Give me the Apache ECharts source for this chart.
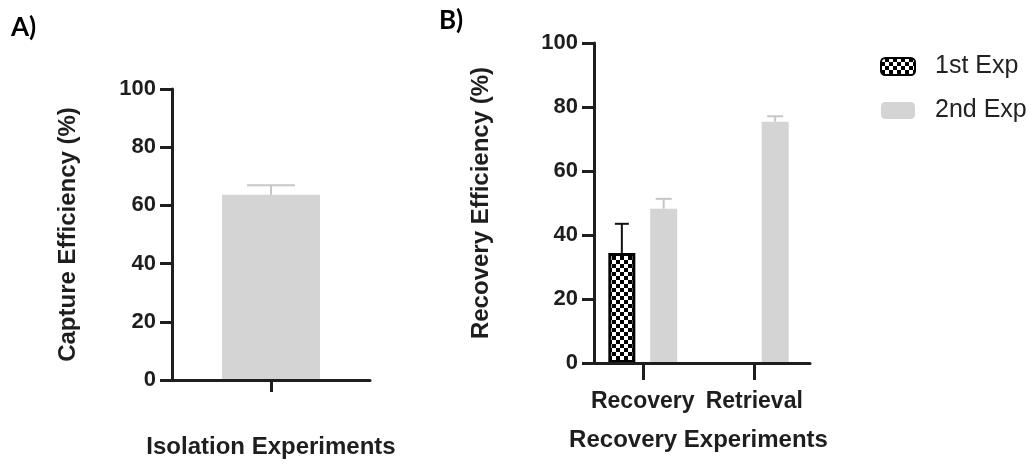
<!DOCTYPE html>
<html>
<head>
<meta charset="utf-8">
<script src="https://cdn.jsdelivr.net/npm/echarts@6/dist/echarts.min.js"></script>
<style>html,body{margin:0;padding:0;background:#fff;}#c{width:1035px;height:464px;}</style>
</head>
<body>
<div id="c"></div>
<script>
// ---- data ----
const isoCategories = [''];
const isoMean = [63.7];
const isoErr = [3.2];

const recCategories = ['Recovery', 'Retrieval'];
const seriesNames = ['1st Exp', '2nd Exp'];
const exp1Mean = [34.4, null];
const exp1Err = [9.1, null];
const exp2Mean = [48.2, 75.4];
const exp2Err = [3.1, 1.7];

// ---- styles ----
const FONT = '"Liberation Sans", Arial, sans-serif';
const AXIS_COLOR = '#1e1e1e';
const GRAY = '#d4d4d4';
const ERR_GRAY = '#c6c6c6';

function checker() {
  const c = document.createElement('canvas');
  c.width = 8; c.height = 8;
  const g = c.getContext('2d');
  g.fillStyle = '#000'; g.fillRect(0, 0, 8, 8);
  g.fillStyle = '#fff'; g.fillRect(0, 0, 4, 4); g.fillRect(4, 4, 4, 4);
  return c;
}

function errRender(offset, capHalf, color) {
  return function (params, api) {
    const idx = api.value(0), m = api.value(1), e = api.value(2);
    const p0 = api.coord([idx, m]);
    const p1 = api.coord([idx, m + e]);
    const x = p0[0] + offset;
    return {
      type: 'group',
      children: [
        { type: 'line', shape: { x1: x, y1: p0[1], x2: x, y2: p1[1] }, style: { stroke: color, lineWidth: 2 } },
        { type: 'line', shape: { x1: x - capHalf, y1: p1[1], x2: x + capHalf, y2: p1[1] }, style: { stroke: color, lineWidth: 2 } }
      ]
    };
  };
}
function errData(means, errs) {
  const out = [];
  means.forEach((m, i) => { if (m != null) out.push([i, m, errs[i]]); });
  return out;
}

const axisLine = { show: true, lineStyle: { color: AXIS_COLOR, width: 3 } };
const axisTick = { show: true, length: 12, lineStyle: { color: AXIS_COLOR, width: 3 } };
const tickLabel = { fontFamily: FONT, fontWeight: 'bold', fontSize: 22, color: AXIS_COLOR };
const nameStyle = { fontFamily: FONT, fontWeight: 'bold', fontSize: 24, color: AXIS_COLOR };

const chart = echarts.init(document.getElementById('c'), null, { renderer: 'canvas' });

chart.setOption({
  animation: false,
  backgroundColor: '#fff',
  graphic: [
    { type: 'text', left: 11, top: 15, style: { text: 'A)', font: 'bold 26px Lato, "Open Sans", sans-serif', fill: '#000' } },
    { type: 'text', left: 439, top: 8, style: { text: 'B)', font: 'bold 26px Lato, "Open Sans", sans-serif', fill: '#000' } }
  ],
  legend: {
    data: seriesNames,
    orient: 'vertical',
    left: 880, top: 54,
    itemWidth: 34, itemHeight: 17, itemGap: 19,
    padding: 0,
    textStyle: { fontFamily: FONT, fontSize: 25, color: '#222', padding: [0, 0, 0, 15] }
  },
  grid: [
    { left: 172, top: 89, width: 198, height: 295 },
    { left: 587, top: 43, width: 223, height: 320 }
  ],
  xAxis: [
    {
      gridIndex: 0, type: 'category', data: isoCategories, z: 5,
      axisLine, axisTick: Object.assign({}, axisTick, { alignWithLabel: true }),
      axisLabel: Object.assign({}, tickLabel, { margin: 26 }),
      name: 'Isolation Experiments', nameLocation: 'middle', nameGap: 55, nameTextStyle: nameStyle
    },
    {
      gridIndex: 1, type: 'category', data: recCategories, z: 5,
      axisLine, axisTick: Object.assign({}, axisTick, { length: 17, alignWithLabel: true, interval: 0 }),
      axisLabel: Object.assign({}, tickLabel, { fontSize: 23, margin: 27, interval: 0, hideOverlap: false }),
      name: 'Recovery Experiments', nameLocation: 'middle', nameGap: 65, nameTextStyle: nameStyle
    }
  ],
  yAxis: [
    {
      gridIndex: 0, type: 'value', min: 0, max: 100, interval: 20, z: 5,
      axisLine, axisTick, splitLine: { show: false },
      axisLabel: Object.assign({}, tickLabel, { margin: 16 }),
      name: 'Capture Efficiency (%)', nameLocation: 'middle', nameGap: 92, nameTextStyle: nameStyle
    },
    {
      gridIndex: 1, type: 'value', min: 0, max: 100, interval: 20, z: 5, offset: -7,
      axisLine, axisTick, splitLine: { show: false },
      axisLabel: Object.assign({}, tickLabel, { margin: 16 }),
      name: 'Recovery Efficiency (%)', nameLocation: 'middle', nameGap: 101, nameTextStyle: nameStyle
    }
  ],
  series: [
    {
      name: 'Isolation', type: 'bar', xAxisIndex: 0, yAxisIndex: 0, data: isoMean,
      barWidth: 98, itemStyle: { color: GRAY }
    },
    {
      name: 'isoErr', type: 'custom', xAxisIndex: 0, yAxisIndex: 0,
      data: errData(isoMean, isoErr), renderItem: errRender(0, 24, ERR_GRAY), z: 1
    },
    {
      name: seriesNames[0], type: 'bar', xAxisIndex: 1, yAxisIndex: 1, data: exp1Mean,
      barWidth: 27, barGap: '55%',
      itemStyle: { color: { image: checker(), repeat: 'repeat' }, borderColor: '#000', borderWidth: 3 }
    },
    {
      name: seriesNames[1], type: 'bar', xAxisIndex: 1, yAxisIndex: 1, data: exp2Mean,
      barWidth: 27, barGap: '55%', itemStyle: { color: GRAY }
    },
    {
      name: 'err1', type: 'custom', xAxisIndex: 1, yAxisIndex: 1,
      data: errData(exp1Mean, exp1Err), renderItem: errRender(-20.9, 7, '#111'), z: 1
    },
    {
      name: 'err2', type: 'custom', xAxisIndex: 1, yAxisIndex: 1,
      data: errData(exp2Mean, exp2Err), renderItem: errRender(20.9, 8, ERR_GRAY), z: 1
    }
  ]
});
</script>
</body>
</html>
